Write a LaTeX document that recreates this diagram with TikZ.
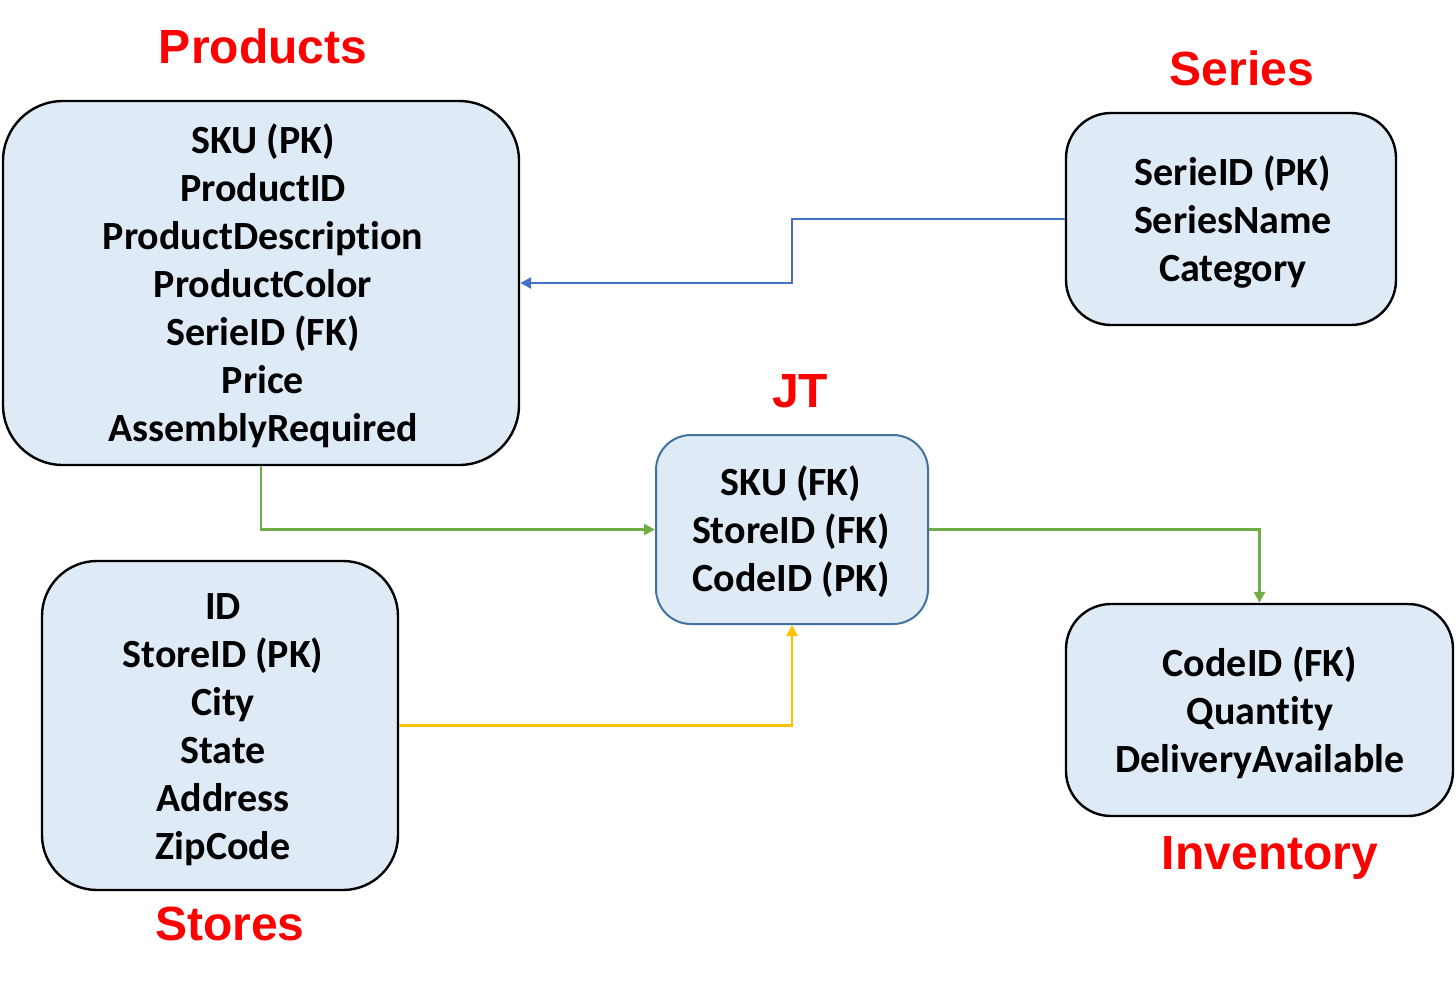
\documentclass[tikz,border=0pt]{standalone}
\usepackage{fontspec}
\setmainfont[Ligatures=NoCommon]{Carlito}
\newfontfamily\titlefont{Liberation Sans}
\usetikzlibrary{arrows.meta}
\definecolor{boxfill}{HTML}{DEEBF7}
\definecolor{jtborder}{HTML}{41719C}
\definecolor{lblue}{HTML}{4472C4}
\definecolor{lgreen}{HTML}{70AD47}
\definecolor{lyellow}{HTML}{FFC000}
\definecolor{tred}{HTML}{FF0000}
\tikzset{
  entity/.style={draw=black, line width=2.4pt, fill=boxfill, rectangle, inner sep=0pt},
  entitytext/.style={inner sep=0pt, align=center, font=\fontsize{40}{48}\selectfont\bfseries},
  title/.style={text=tred, inner sep=0pt, font=\titlefont\fontsize{48}{50}\selectfont\bfseries},
  conn/.style={line width=2.6pt, -{Triangle[length=11pt,width=11pt]}}
}
\begin{document}
\begin{tikzpicture}[x=1pt,y=-1pt]
\useasboundingbox (0,0) rectangle (1456,982);
\node[entity, minimum width=516, minimum height=364, rounded corners=60] (products) at (261,283) {};
\node[entitytext] (productstext) at (263,286)
  {SKU (PK)\\ProductID\\ProductDescription\\ProductColor\\SerieID (FK)\\Price\\AssemblyRequired};
\node[entity, minimum width=330, minimum height=212, rounded corners=45] (series) at (1231,219) {};
\node[entitytext] (seriestext) at (1233,222) {SerieID (PK)\\SeriesName\\Category};
\node[entity, draw=jtborder, line width=2pt, minimum width=272, minimum height=189, rounded corners=35] (jt) at (792,529.5) {};
\node[entitytext] (jttext) at (791,532) {SKU (FK)\\StoreID (FK)\\CodeID (PK)};
\node[entity, minimum width=356, minimum height=329, rounded corners=55] (stores) at (220,725.5) {};
\node[entitytext] (storestext) at (223,729.5) {ID\\StoreID (PK)\\City\\State\\Address\\ZipCode};
\node[entity, minimum width=387, minimum height=212, rounded corners=45] (inventory) at (1259.5,710) {};
\node[entitytext] (inventorytext) at (1260,712.5) {CodeID (FK)\\Quantity\\DeliveryAvailable};
\node[title] (tproducts) at (263,46) {Products};
\node[title] (tseries) at (1242,68) {Series};
\node[title] (tjt) at (800,391) {JT};
\node[title] (tstores) at (230,924) {Stores};
\node[title] (tinventory) at (1270,858) {Inventory};
\draw[conn, lblue] (series.west) -- ++(-273,0) |- (products.east);
\draw[conn, lgreen] (products.south) |- (jt.west);
\draw[conn, lgreen] (jt.east) -| (inventory.north);
\draw[conn, lyellow] (stores.east) -| (jt.south);
\end{tikzpicture}
\end{document}
